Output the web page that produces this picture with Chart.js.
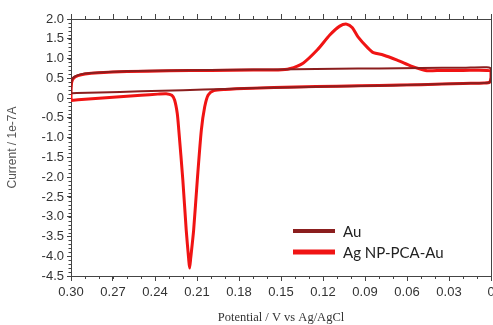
<!DOCTYPE html>
<html>
<head>
<meta charset="utf-8">
<script src="https://cdn.jsdelivr.net/npm/chart.js@4/dist/chart.umd.min.js"></script>
<style>
  html, body { margin: 0; padding: 0; background: #fff; }
  #wrap { width: 493px; height: 325px; }
</style>
</head>
<body>
<div id="wrap"><canvas id="cv"></canvas></div>
<script>
// Au electrode loop (potential V, current 1e-7 A)
const auX = [0.300, 0.296, 0.28, 0.25, 0.22, 0.19, 0.16, 0.13, 0.10, 0.07, 0.04, 0.02, 0.005, 0.001, 0.000, 0.000,
  0.003, 0.02, 0.05, 0.08, 0.11, 0.14, 0.17, 0.20, 0.23, 0.26, 0.28, 0.29, 0.295, 0.298, 0.2995, 0.300, 0.300];
const auY = [0.12, 0.13, 0.14, 0.17, 0.20, 0.23, 0.26, 0.28, 0.30, 0.32, 0.35, 0.37, 0.38, 0.40, 0.52, 0.74,
  0.78, 0.77, 0.76, 0.75, 0.74, 0.73, 0.72, 0.71, 0.70, 0.68, 0.65, 0.62, 0.58, 0.53, 0.45, 0.25, 0.12];

// Ag NP-PCA-Au loop
const agX = [0.300, 0.29, 0.27, 0.25, 0.238, 0.232, 0.228, 0.226, 0.2241, 0.2230, 0.2201, 0.2177, 0.2160, 0.2153,
  0.2145, 0.2124, 0.2098, 0.2069, 0.2045, 0.2020, 0.198, 0.19, 0.17, 0.14, 0.11, 0.08, 0.05, 0.02, 0.005, 0.001,
  0.000, 0.000, 0.003, 0.02, 0.035, 0.045, 0.050, 0.057, 0.067, 0.077, 0.084, 0.088, 0.095, 0.099, 0.103, 0.108,
  0.115, 0.124, 0.134, 0.144, 0.152, 0.17, 0.20, 0.23, 0.26, 0.28, 0.29, 0.295, 0.298, 0.2995, 0.300, 0.300];
const agY = [-0.06, -0.03, 0.02, 0.07, 0.10, 0.11, 0.07, -0.05, -0.39, -0.81, -2.08, -3.34, -4.05, -4.30,
  -4.05, -3.34, -2.08, -0.81, -0.22, 0.08, 0.19, 0.22, 0.25, 0.28, 0.30, 0.32, 0.34, 0.37, 0.38, 0.40,
  0.52, 0.68, 0.70, 0.70, 0.70, 0.69, 0.73, 0.81, 0.96, 1.09, 1.15, 1.27, 1.55, 1.78, 1.87, 1.82,
  1.60, 1.22, 0.89, 0.74, 0.71, 0.71, 0.70, 0.69, 0.67, 0.64, 0.61, 0.57, 0.51, 0.40, 0.15, -0.06];

const seriesNames = ["Au", "Ag NP-PCA-Au"];
const seriesColors = ["#8b1e1e", "#f01414"];

const toPoints = (xs, ys) => xs.map((x, i) => ({ x: x, y: ys[i] }));

const axisColor = "#444";
const tickFont = { family: "Liberation Sans", size: 13 };

const fmtX = (v) => (Math.abs(v) < 1e-9 ? "0" : v.toFixed(2));
const fmtY = (v) => (Math.abs(v) < 1e-9 ? "0" : v.toFixed(1));

// no extra room for the end labels; the plot runs to the right edge
const noPad = (s) => { s.paddingLeft = 0; s.paddingRight = 0; };

// small ticks between the labelled ones, plus the top axis ticks
const minorTicks = {
  id: "minorTicks",
  afterDraw(chart) {
    const { ctx, chartArea: a, scales } = chart;
    ctx.save();
    ctx.strokeStyle = axisColor;
    ctx.lineWidth = 1;
    ctx.beginPath();
    for (let i = 0; i <= 30; i++) {
      const px = Math.round(scales.x.getPixelForValue(i / 100)) + 0.5;
      const len = i % 3 === 0 ? 5 : 3;
      ctx.moveTo(px, a.bottom); ctx.lineTo(px, a.bottom + 3);
      ctx.moveTo(px, a.top); ctx.lineTo(px, a.top - len);
    }
    for (let i = -45; i <= 20; i++) {
      const py = Math.round(scales.y.getPixelForValue(i / 10)) + 0.5;
      ctx.moveTo(a.left, py); ctx.lineTo(a.left - 2.5, py);
    }
    ctx.stroke();
    ctx.restore();
  }
};

// legend inside the plot, lower right
const innerLegend = {
  id: "innerLegend",
  afterDraw(chart) {
    const ctx = chart.ctx;
    ctx.save();
    ctx.font = "15px Lato";
    ctx.textBaseline = "middle";
    chart.data.datasets.forEach((ds, i) => {
      const y = 231 + i * 21;
      ctx.strokeStyle = ds.borderColor;
      ctx.lineWidth = i === 0 ? 4 : 5;
      ctx.beginPath();
      ctx.moveTo(293, y); ctx.lineTo(335, y);
      ctx.stroke();
      ctx.fillStyle = "#222";
      ctx.fillText(ds.label, 343, y + 1);
    });
    ctx.restore();
  }
};

new Chart(document.getElementById("cv"), {
  type: "scatter",
  data: {
    datasets: [
      {
        label: seriesNames[0],
        data: toPoints(auX, auY),
        showLine: true,
        borderColor: seriesColors[0],
        borderWidth: 2,
        pointRadius: 0,
        tension: 0.25,
      },
      {
        label: seriesNames[1],
        data: toPoints(agX, agY),
        showLine: true,
        borderColor: seriesColors[1],
        borderWidth: 3,
        pointRadius: 0,
        tension: 0.25,
      },
    ],
  },
  options: {
    responsive: true,
    maintainAspectRatio: false,
    animation: false,
    layout: { padding: 0 },
    plugins: { legend: { display: false }, tooltip: { enabled: false } },
    scales: {
      x: {
        type: "linear",
        position: "bottom",
        min: 0,
        max: 0.3,
        reverse: true,
        afterFit: (s) => { s.height = 49; noPad(s); },
        ticks: { stepSize: 0.03, callback: fmtX, color: "#333", font: tickFont, padding: 4, maxRotation: 0 },
        grid: { drawOnChartArea: false, tickLength: 5, color: axisColor },
        border: { color: axisColor },
        title: {
          display: true,
          text: "Potential / V vs Ag/AgCl",
          font: { family: "Liberation Serif", size: 12.5 },
          color: "#333",
          padding: { top: 0, bottom: 0 },
        },
      },
      xTop: {
        type: "linear",
        position: "top",
        min: 0,
        max: 0.3,
        reverse: true,
        afterFit: (s) => { s.height = 19; noPad(s); },
        ticks: { display: false },
        grid: { display: false },
        border: { color: axisColor },
      },
      y: {
        type: "linear",
        position: "left",
        min: -4.5,
        max: 2.0,
        afterFit: (s) => { s.width = 71; },
        ticks: { stepSize: 0.5, callback: fmtY, color: "#333", font: tickFont, padding: 3 },
        grid: { drawOnChartArea: false, tickLength: 4, color: axisColor },
        border: { color: axisColor },
        title: {
          display: true,
          text: "Current / 1e-7A",
          font: { family: "Liberation Sans", size: 12 },
          color: "#555",
          padding: { top: 5, bottom: 0 },
        },
      },
      yRight: {
        type: "linear",
        position: "right",
        min: -4.5,
        max: 2.0,
        afterFit: (s) => { s.width = 2; },
        ticks: { display: false },
        grid: { display: false },
        border: { color: axisColor },
      },
    },
  },
  plugins: [minorTicks, innerLegend],
});
</script>
</body>
</html>
